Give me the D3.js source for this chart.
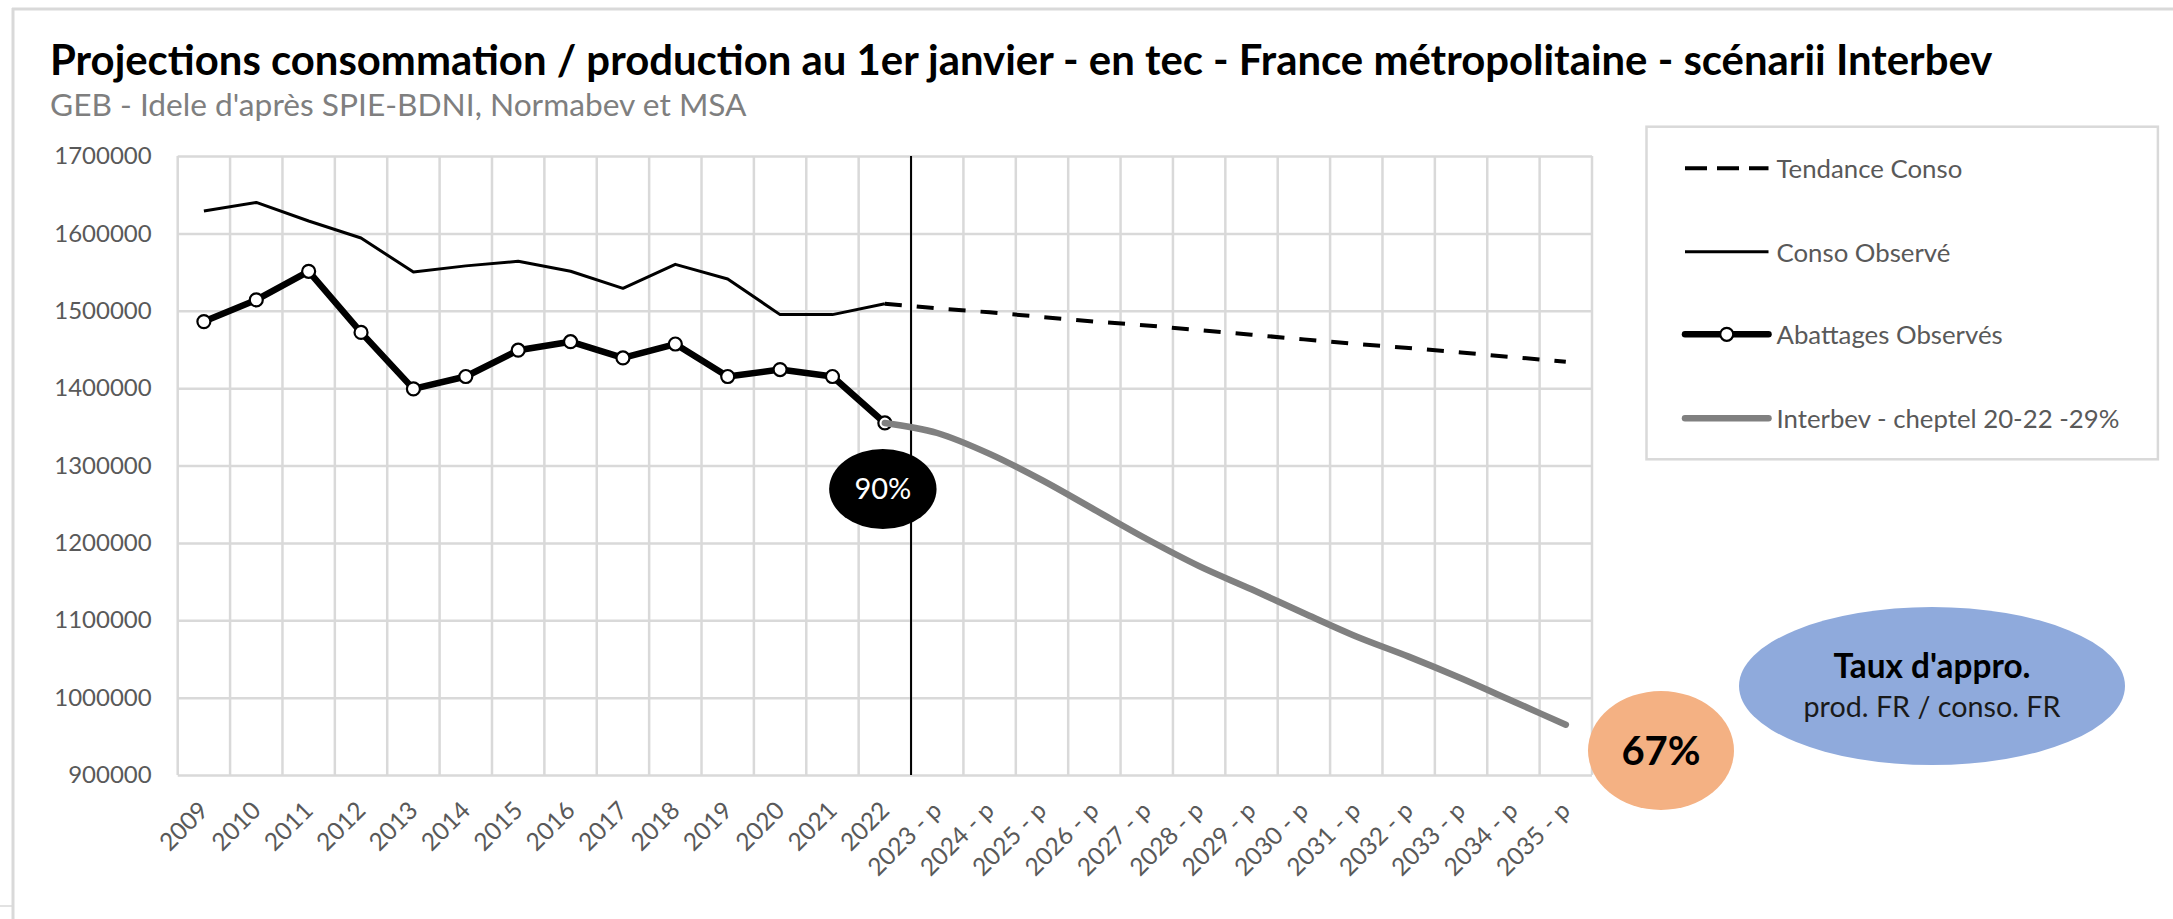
<!DOCTYPE html>
<html>
<head>
<meta charset="utf-8">
<script src="https://cdn.jsdelivr.net/npm/d3@7"></script>
<style>
body { margin: 0; background: #fff; }
svg text { font-family: Lato, "Open Sans", sans-serif; }
</style>
</head>
<body>
<svg id="chart" width="2173" height="919"></svg>
<script>
// categories (x axis)
var years = ["2009","2010","2011","2012","2013","2014","2015","2016","2017","2018","2019","2020","2021","2022",
  "2023 - p","2024 - p","2025 - p","2026 - p","2027 - p","2028 - p","2029 - p","2030 - p","2031 - p","2032 - p","2033 - p","2034 - p","2035 - p"];
var obsYears = years.slice(0, 14);   // 2009 .. 2022
var projYears = years.slice(13);     // 2022 .. 2035 - p

// series (tec)
var consoObserve = [1629000,1640000,1616000,1594000,1550000,1558000,1564000,1551000,1529000,1560000,1541000,1495000,1495000,1509000];
var abattagesObserves = [1486000,1514000,1551000,1472000,1399000,1415000,1449000,1460000,1439000,1457000,1415000,1424000,1415000,1355000];
var tendanceConso = [1509000,1503000,1498000,1492000,1486000,1481000,1475000,1469000,1463000,1457000,1452000,1446000,1440000,1434000];
var interbev = [1355000,1342000,1315000,1281000,1243000,1205000,1170000,1140000,1109000,1079000,1053000,1025000,995000,965000];

var yTicks = [900000,1000000,1100000,1200000,1300000,1400000,1500000,1600000,1700000];

var legendNames = ["Tendance Conso","Conso Observé","Abattages Observés","Interbev - cheptel 20-22 -29%"];
var ratioStart = "90%", ratioEnd = "67%";

var svg = d3.select("#chart");

var pLeft = 177.7, pRight = 1592, pTop = 156, pBottom = 775;

var x = d3.scaleBand().domain(years).range([pLeft, pRight]).padding(0);
var y = d3.scaleLinear().domain([900000, 1700000]).range([pBottom, pTop]);
var cx = function(c) { return x(c) + x.bandwidth() / 2; };

function fit(sel, w) {
  var cur = sel.node().getComputedTextLength();
  var fs = parseFloat(sel.attr("font-size"));
  sel.attr("font-size", fs * w / cur);
  return sel;
}

// chart frame
svg.append("line").attr("x1", 13).attr("x2", 13).attr("y1", 8).attr("y2", 919)
  .attr("stroke", "#d9d9d9").attr("stroke-width", 3);
svg.append("line").attr("x1", 12).attr("x2", 2173).attr("y1", 9).attr("y2", 9)
  .attr("stroke", "#d9d9d9").attr("stroke-width", 3);
svg.append("line").attr("x1", 0).attr("x2", 12).attr("y1", 906).attr("y2", 906)
  .attr("stroke", "#d9d9d9").attr("stroke-width", 1.5);

// titles
fit(svg.append("text").attr("x", 50).attr("y", 75).attr("font-size", 36).attr("font-weight", "bold")
  .attr("fill", "#000")
  .text("Projections consommation / production au 1er janvier - en tec - France métropolitaine - scénarii Interbev"), 1943);
fit(svg.append("text").attr("x", 50).attr("y", 116).attr("font-size", 26).attr("fill", "#7f7f7f")
  .text("GEB - Idele d'après SPIE-BDNI, Normabev et MSA"), 697);

// horizontal grid
var gridH = svg.append("g").attr("transform", "translate(" + pLeft + ",0)")
  .call(d3.axisLeft(y).tickValues(yTicks).tickSize(-(pRight - pLeft)).tickFormat(""));
gridH.select(".domain").remove();
gridH.selectAll("line").attr("stroke", "#d9d9d9").attr("stroke-width", 2.5);

// vertical grid at category boundaries
svg.append("g").selectAll("line").data(d3.range(years.length + 1)).join("line")
  .attr("x1", function(i) { return pLeft + i * x.step(); })
  .attr("x2", function(i) { return pLeft + i * x.step(); })
  .attr("y1", y(1700000)).attr("y2", y(900000))
  .attr("stroke", "#d9d9d9").attr("stroke-width", 2.5);

// y labels
var yAxis = svg.append("g").attr("transform", "translate(" + pLeft + ",0)")
  .call(d3.axisLeft(y).tickValues(yTicks).tickSize(0).tickPadding(26).tickFormat(d3.format("d")));
yAxis.select(".domain").remove();
yAxis.selectAll("text").attr("font-size", 24).attr("fill", "#595959").attr("font-family", "Lato");

// x labels
var xAxis = svg.append("g").attr("transform", "translate(0," + pBottom + ")")
  .call(d3.axisBottom(x).tickSize(0));
xAxis.select(".domain").remove();
xAxis.selectAll("text").attr("font-size", 24.5).attr("fill", "#595959").attr("font-family", "Lato")
  .attr("x", 0).attr("y", 0).attr("dy", null)
  .style("text-anchor", "end")
  .attr("transform", "translate(6,37) rotate(-45)");

// divider observed / projected
svg.append("line")
  .attr("x1", x("2023 - p")).attr("x2", x("2023 - p"))
  .attr("y1", y(1700000)).attr("y2", y(900000))
  .attr("stroke", "#000").attr("stroke-width", 2);

var line = d3.line().x(function(d) { return cx(d[0]); }).y(function(d) { return y(d[1]); });
var smooth = d3.line().curve(d3.curveMonotoneX).x(function(d) { return cx(d[0]); }).y(function(d) { return y(d[1]); });

var consoData = d3.zip(obsYears, consoObserve);
var abatData = d3.zip(obsYears, abattagesObserves);
var tendData = d3.zip(projYears, tendanceConso);
var interData = d3.zip(projYears, interbev);

svg.append("path").datum(consoData).attr("d", line)
  .attr("fill", "none").attr("stroke", "#000").attr("stroke-width", 3).attr("stroke-linejoin", "round");

svg.append("path").datum(abatData).attr("d", line)
  .attr("fill", "none").attr("stroke", "#000").attr("stroke-width", 6.5).attr("stroke-linejoin", "round");
svg.append("g").selectAll("circle").data(abatData).join("circle")
  .attr("cx", function(d) { return cx(d[0]); }).attr("cy", function(d) { return y(d[1]); })
  .attr("r", 6.5).attr("fill", "#fff").attr("stroke", "#000").attr("stroke-width", 2.2);

svg.append("path").datum(interData).attr("d", smooth)
  .attr("fill", "none").attr("stroke", "#808080").attr("stroke-width", 6.5).attr("stroke-linecap", "round");

svg.append("path").datum(tendData).attr("d", line)
  .attr("fill", "none").attr("stroke", "#000").attr("stroke-width", 4).attr("stroke-dasharray", "17,15");

// legend
var lg = svg.append("g");
lg.append("rect").attr("x", 1646.5).attr("y", 126.7).attr("width", 511.4).attr("height", 332.6)
  .attr("fill", "#fff").attr("stroke", "#d9d9d9").attr("stroke-width", 2.5);
var rowY = [168.3, 251.7, 334.3, 418.3];
var sx1 = 1685, sx2 = 1768.5;
lg.append("line").attr("x1", sx1).attr("x2", sx2).attr("y1", rowY[0]).attr("y2", rowY[0])
  .attr("stroke", "#000").attr("stroke-width", 4).attr("stroke-dasharray", "22,10");
lg.append("line").attr("x1", sx1).attr("x2", sx2).attr("y1", rowY[1]).attr("y2", rowY[1])
  .attr("stroke", "#000").attr("stroke-width", 3);
lg.append("line").attr("x1", sx1).attr("x2", sx2).attr("y1", rowY[2]).attr("y2", rowY[2])
  .attr("stroke", "#000").attr("stroke-width", 6.5).attr("stroke-linecap", "round");
lg.append("circle").attr("cx", (sx1 + sx2) / 2).attr("cy", rowY[2]).attr("r", 6.5)
  .attr("fill", "#fff").attr("stroke", "#000").attr("stroke-width", 2.2);
lg.append("line").attr("x1", sx1).attr("x2", sx2).attr("y1", rowY[3]).attr("y2", rowY[3])
  .attr("stroke", "#808080").attr("stroke-width", 6.5).attr("stroke-linecap", "round");
var lt = lg.selectAll("text.lt").data(legendNames).join("text").attr("class", "lt")
  .attr("x", 1776.5).attr("y", function(d, i) { return rowY[i] + 10; })
  .attr("font-size", 26).attr("fill", "#595959").text(function(d) { return d; });
var lastW = lt.filter(function(d, i) { return i === 3; }).node().getComputedTextLength();
lt.attr("font-size", 26 * 343 / lastW);

// ratio bubbles
var b1x = cx("2022"), b1y = y(abattagesObserves[13]) + 66;
svg.append("ellipse").attr("cx", b1x - 2).attr("cy", b1y).attr("rx", 53.7).attr("ry", 40).attr("fill", "#000");
svg.append("text").attr("x", b1x - 2).attr("y", b1y + 10).attr("text-anchor", "middle")
  .attr("font-size", 29).attr("fill", "#fff").text(ratioStart);

svg.append("ellipse").attr("cx", 1661).attr("cy", 750.5).attr("rx", 73).attr("ry", 59.5).attr("fill", "#f4b183");
svg.append("text").attr("x", 1661).attr("y", 765).attr("text-anchor", "middle")
  .attr("font-size", 40).attr("font-weight", "bold").attr("fill", "#000").text(ratioEnd);

svg.append("ellipse").attr("cx", 1932).attr("cy", 686).attr("rx", 193).attr("ry", 79).attr("fill", "#8faadc");
fit(svg.append("text").attr("x", 1932).attr("y", 678).attr("text-anchor", "middle")
  .attr("font-size", 30).attr("font-weight", "bold").attr("fill", "#000").text("Taux d'appro."), 197);
fit(svg.append("text").attr("x", 1932).attr("y", 717).attr("text-anchor", "middle")
  .attr("font-size", 28).attr("fill", "#1a1a1a").text("prod. FR / conso. FR"), 257);
</script>
</body>
</html>
